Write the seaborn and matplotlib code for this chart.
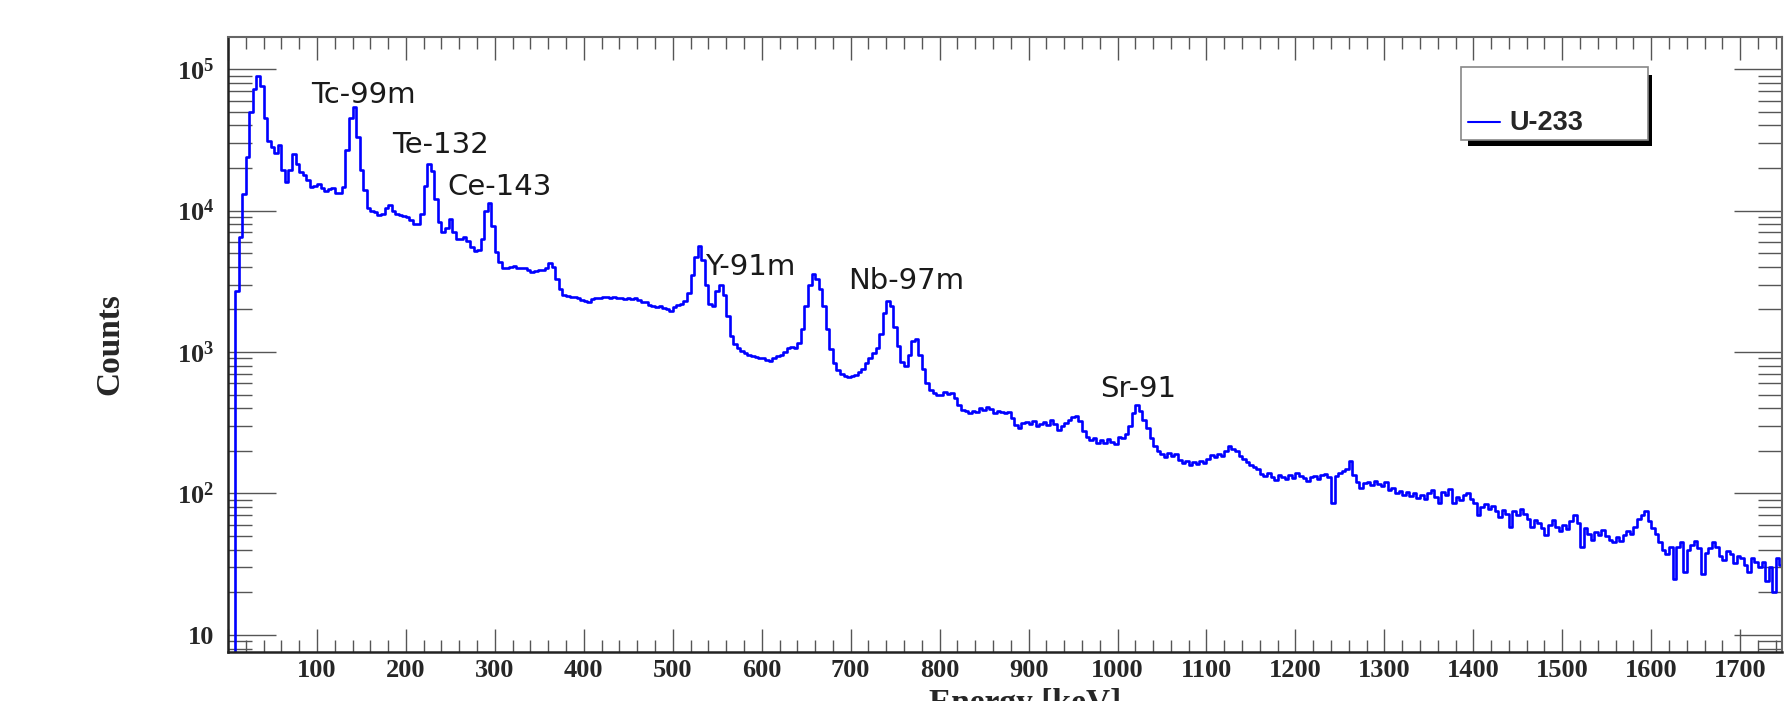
import numpy as np
import matplotlib
matplotlib.use("Agg")
import matplotlib.pyplot as plt
from matplotlib.patches import Rectangle
from matplotlib.lines import Line2D
from matplotlib.ticker import MultipleLocator, LogLocator, FuncFormatter, NullFormatter
import seaborn as sns

# U-233 gamma spectrum, 4 keV bins starting at 0 keV (counts per bin)
bin_width = 4
counts = [
    0, 0, 2700, 6500, 13000, 24000, 50000, 72000, 89000, 76000,            # 0-40
    45000, 31000, 28000, 25500, 29000, 19500, 15800, 19500, 25000, 21500,   # 40-80
    18600, 17800, 16400, 14700, 15000, 15400, 14500, 13800, 14200, 14400,   # 80-120
    13400, 13300, 14800, 27000, 45000, 54000, 33000, 19500, 14000, 10500,   # 120-160
    10000, 9700, 9300, 9500, 10500, 10900, 9900, 9400, 9250, 9150,          # 160-200
    9050, 8600, 8100, 8000, 9500, 15000, 21500, 19000, 12000, 8300,         # 200-240
    7100, 7500, 8700, 7000, 6300, 6250, 6500, 6100, 5500, 5150,             # 240-280
    5300, 6300, 10000, 11400, 7800, 5100, 4350, 3950, 3900, 4000,           # 280-320
    4050, 3950, 3900, 3900, 3800, 3700, 3750, 3800, 3780, 3900,             # 320-360
    4250, 4000, 3300, 2800, 2550, 2480, 2450, 2440, 2400, 2350,             # 360-400
    2300, 2270, 2380, 2400, 2420, 2450, 2440, 2400, 2430, 2420,             # 400-440
    2400, 2370, 2410, 2380, 2390, 2330, 2270, 2240, 2150, 2100,             # 440-480
    2070, 2110, 2040, 2000, 1960, 2080, 2150, 2200, 2280, 2600,             # 480-520
    3500, 4700, 5600, 4500, 3000, 2200, 2100, 2700, 3000, 2550,             # 520-560
    1800, 1300, 1130, 1060, 1020, 985, 960, 930, 920, 905,                  # 560-600
    900, 880, 870, 900, 930, 960, 1000, 1060, 1090, 1070,                   # 600-640
    1150, 1450, 2100, 3000, 3550, 3300, 2800, 2100, 1450, 1050,             # 640-680
    840, 740, 700, 675, 665, 680, 690, 720, 760, 830,                       # 680-720
    900, 980, 1060, 1350, 1900, 2300, 2100, 1500, 1100, 850,                # 720-760
    790, 960, 1200, 1230, 950, 760, 600, 540, 515, 500,                     # 760-800
    495, 520, 505, 515, 470, 425, 390, 380, 372, 385,                       # 800-840
    378, 400, 392, 410, 395, 372, 385, 378, 368, 375,                       # 840-880
    340, 305, 290, 315, 322, 308, 325, 300, 312, 320,                       # 880-920
    305, 328, 310, 282, 300, 315, 330, 345, 350, 325,                       # 920-960
    275, 252, 238, 248, 228, 240, 226, 242, 230, 225,                       # 960-1000
    250, 248, 265, 300, 370, 420, 385, 330, 290, 245,                       # 1000-1040
    215, 200, 190, 182, 192, 185, 190, 172, 165, 170,                       # 1040-1080
    160, 168, 162, 170, 163, 175, 188, 182, 190, 185,                       # 1080-1120
    198, 215, 205, 200, 185, 176, 168, 160, 155, 150,                       # 1120-1160
    138, 132, 140, 130, 124, 136, 131, 127, 135, 128,                       # 1160-1200
    140, 133, 128, 122, 130, 132, 126, 135, 138, 130,                       # 1200-1240
    86, 132, 140, 145, 148, 170, 135, 120, 110, 118,                        # 1240-1280
    121, 114, 123, 116, 112, 120, 105, 110, 101, 104,                       # 1280-1320
    98, 103, 96, 100, 93, 97, 92, 100, 106, 94,                             # 1320-1360
    86, 103, 98, 108, 86, 95, 90, 97, 100, 92,                              # 1360-1400
    86, 70, 80, 84, 78, 82, 75, 68, 76, 72,                                 # 1400-1440
    58, 75, 70, 77, 71, 66, 58, 65, 62, 57,                                 # 1440-1480
    51, 60, 65, 58, 54, 60, 56, 64, 70, 62,                                 # 1480-1520
    42, 57, 52, 47, 53, 51, 55, 50, 47, 45,                                 # 1520-1560
    49, 46, 51, 54, 52, 58, 66, 70, 75, 64,                                 # 1560-1600
    57, 52, 45, 40, 37, 42, 25, 42, 45, 28,                                 # 1600-1640
    40, 43, 46, 41, 27, 38, 41, 45, 42, 36,                                 # 1640-1680
    34, 39, 37, 32, 36, 35, 31, 28, 35, 33,                                 # 1680-1720
    30, 33, 24, 30, 20, 35, 31,                                             # 1720-1748
]

# peak labels: name, energy [keV] of text start, counts at text baseline
peak_names = ["Tc-99m", "Te-132", "Ce-143", "Y-91m", "Nb-97m", "Sr-91"]
peak_label_keV = [93, 184, 247, 536, 697, 981]
peak_label_counts = [57800, 25700, 12900, 3530, 2810, 479]

legend_label = "U-233"

W, H = 1784, 701
edges = np.arange(len(counts) + 1) * bin_width
step_counts = counts + [counts[-1]]

sns.set_theme(style="white")
plt.rcParams["font.family"] = ["Liberation Serif", "DejaVu Serif"]
plt.rcParams["font.weight"] = "bold"
plt.rcParams["mathtext.fontset"] = "custom"
plt.rcParams["mathtext.rm"] = "Liberation Serif:bold"
plt.rcParams["mathtext.bf"] = "Liberation Serif:bold"

fig = plt.figure(figsize=(W / 100, H / 100), dpi=100)
fig.patch.set_facecolor("white")
ax = fig.add_axes([228 / W, 1 - 651.7 / H, (1782 - 228) / W, (651.7 - 37.3) / H])

sns.lineplot(x=edges, y=step_counts, drawstyle="steps-post", estimator=None,
             color="#0000ff", linewidth=1.9, ax=ax, legend=False)

ax.set_yscale("log", nonpositive="clip")
ax.set_xlim(0, 1747)
ax.set_ylim(7.6, 1.68e5)
ax.set_xlabel("")
ax.set_ylabel("")

ax.xaxis.set_major_locator(MultipleLocator(100))
ax.xaxis.set_minor_locator(MultipleLocator(20))
ax.xaxis.set_major_formatter(FuncFormatter(lambda v, p: "" if v <= 0 else f"{int(v)}"))
ax.yaxis.set_major_locator(LogLocator(base=10))
ax.yaxis.set_minor_locator(LogLocator(base=10, subs=np.arange(2, 10)))
ax.yaxis.set_minor_formatter(NullFormatter())


def log_label(v, p):
    e = int(round(np.log10(v)))
    if e == 1:
        return "10"
    return r"$\mathbf{10^{%d}}$" % e


ax.yaxis.set_major_formatter(FuncFormatter(log_label))

tick_col = "#555555"
ax.tick_params(axis="x", which="major", direction="in", length=16.5, width=1.0,
               color=tick_col, top=True, bottom=True, pad=5, labelsize=19)
ax.tick_params(axis="x", which="minor", direction="in", length=8.5, width=1.0,
               color=tick_col, top=True, bottom=True)
ax.tick_params(axis="y", which="major", direction="in", length=34.5, width=1.0,
               color=tick_col, left=True, right=True, pad=10, labelsize=19)
ax.tick_params(axis="y", which="minor", direction="in", length=17, width=1.0,
               color=tick_col, left=True, right=True)

for side in ["left", "bottom"]:
    ax.spines[side].set_color("#222222")
    ax.spines[side].set_linewidth(1.8)
for side in ["top", "right"]:
    ax.spines[side].set_color("#666666")
    ax.spines[side].set_linewidth(1.5)

for name, e, c in zip(peak_names, peak_label_keV, peak_label_counts):
    ax.text(e, c, name, family="DejaVu Sans", weight="normal", fontsize=21,
            color="#1a1a1a", ha="left", va="baseline")

# axis titles (the x title sits partly below the picture, as in the original crop)
fig.text(1025 / W, 1 - 712 / H, "Energy [keV]", fontsize=24, weight="bold",
         ha="center", va="baseline")
fig.text(110 / W, 1 - 344 / H, "Counts", fontsize=24, weight="bold",
         rotation=90, ha="center", va="center")

# ROOT-style legend box with a solid shadow
fig.add_artist(Rectangle((1468 / W, 1 - 145.7 / H), (1652 - 1468) / W, (145.7 - 75) / H,
                         transform=fig.transFigure, facecolor="black", edgecolor="none"))
fig.add_artist(Rectangle((1461 / W, 1 - 140 / H), (1648 - 1461) / W, (140 - 66.7) / H,
                         transform=fig.transFigure, facecolor="white", edgecolor="#888888",
                         linewidth=1.2))
fig.add_artist(Line2D([1468 / W, 1500 / W], [1 - 122 / H, 1 - 122 / H],
                      transform=fig.transFigure, color="#0000ff", linewidth=1.5))
fig.text(1509 / W, 1 - 130 / H, legend_label, family="Liberation Sans", weight="bold",
         fontsize=19.5, ha="left", va="baseline")

fig.savefig("out.png", dpi=100)
